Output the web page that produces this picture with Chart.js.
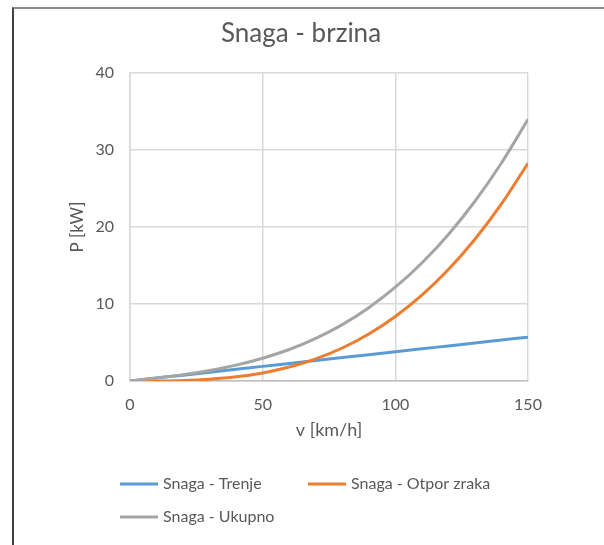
<!DOCTYPE html>
<html>
<head>
<meta charset="utf-8">
<script src="https://cdn.jsdelivr.net/npm/chart.js@4/dist/chart.umd.min.js"></script>
<style>
  html, body { margin: 0; padding: 0; background: #ffffff; }
  #wrap { position: relative; width: 604px; height: 545px; overflow: hidden; }
  #frame { position: absolute; left: 12px; top: 7px; right: 0; bottom: 0;
           border-top: 2px solid #8c8c8c; border-left: 2px solid #404040; }
  canvas { position: absolute; left: 0; top: 0; }
</style>
</head>
<body>
<div id="wrap">
  <div id="frame"></div>
  <canvas id="c" width="604" height="545"></canvas>
</div>
<script>
// Data
const speeds  = [0, 10, 20, 30, 40, 50, 60, 70, 80, 90, 100, 110, 120, 130, 140, 150];
const trenje  = [0, 0.38, 0.76, 1.14, 1.52, 1.90, 2.28, 2.66, 3.04, 3.42, 3.80, 4.18, 4.56, 4.94, 5.32, 5.70];
const otpor   = [0, 0.01, 0.07, 0.23, 0.54, 1.05, 1.81, 2.88, 4.29, 6.11, 8.39, 11.16, 14.49, 18.42, 23.01, 28.30];
const ukupno  = [0, 0.39, 0.83, 1.37, 2.06, 2.95, 4.09, 5.54, 7.33, 9.53, 12.19, 15.34, 19.05, 23.36, 28.33, 34.00];
const seriesNames = ['Snaga - Trenje', 'Snaga - Otpor zraka', 'Snaga - Ukupno'];
const xTicks = [0, 50, 100, 150];
const yTicks = [0, 10, 20, 30, 40];
const chartTitle = 'Snaga - brzina';
const xTitle = 'v [km/h]';
const yTitle = 'P [kW]';

const toPts = arr => speeds.map((v, i) => ({ x: v, y: arr[i] }));
const FONT = 'Lato';
const TXT = '#595959';

const legendPlugin = {
  id: 'excelLegend',
  afterDraw(chart) {
    const ctx = chart.ctx;
    const pos = [[120, 484], [308, 484], [120, 517]];
    ctx.save();
    ctx.font = '16px ' + FONT;
    ctx.textBaseline = 'middle';
    ctx.textAlign = 'left';
    chart.data.datasets.forEach((ds, i) => {
      const [x, y] = pos[i];
      ctx.strokeStyle = ds.borderColor;
      ctx.lineWidth = 3;
      ctx.beginPath();
      ctx.moveTo(x, y);
      ctx.lineTo(x + 38, y);
      ctx.stroke();
      ctx.fillStyle = TXT;
      ctx.fillText(ds.label, x + 43, y);
    });
    ctx.restore();
  }
};

new Chart(document.getElementById('c'), {
  type: 'line',
  data: {
    datasets: [
      { label: seriesNames[0], data: toPts(trenje), borderColor: '#5b9bd5', order: 3 },
      { label: seriesNames[1], data: toPts(otpor),  borderColor: '#ed7d31', order: 2 },
      { label: seriesNames[2], data: toPts(ukupno), borderColor: '#a5a5a5', order: 1 }
    ]
  },
  options: {
    responsive: false,
    devicePixelRatio: 1,
    animation: false,
    layout: { padding: { top: 8, left: 12, right: 14, bottom: 104 } },
    elements: {
      line: { borderWidth: 3, cubicInterpolationMode: 'monotone', fill: false },
      point: { radius: 0, hoverRadius: 0 }
    },
    plugins: {
      legend: { display: false },
      tooltip: { enabled: false },
      title: {
        display: true,
        text: chartTitle,
        color: TXT,
        font: { family: FONT, size: 26, weight: 'normal' },
        padding: { top: 10, bottom: 24 }
      }
    },
    scales: {
      x: {
        type: 'linear',
        min: 0, max: 150,
        afterBuildTicks: s => { s.ticks = xTicks.map(v => ({ value: v })); },
        afterFit: s => { s.height = 60; },
        grid: { color: '#d9d9d9', lineWidth: 1.5, drawTicks: false },
        border: { color: '#bfbfbf', width: 1.5 },
        ticks: { color: TXT, font: { family: FONT, size: 16 }, padding: 14, maxRotation: 0 },
        title: { display: true, text: xTitle, color: TXT, font: { family: FONT, size: 18 }, padding: { top: 0, bottom: 0 } }
      },
      y: {
        min: 0, max: 40,
        afterBuildTicks: s => { s.ticks = yTicks.map(v => ({ value: v })); },
        afterFit: s => { s.width = 118; },
        grid: { color: '#d9d9d9', lineWidth: 1.5, drawTicks: false },
        border: { color: '#d9d9d9', width: 1.5 },
        ticks: { color: TXT, font: { family: FONT, size: 16 }, padding: 16 },
        title: { display: true, text: yTitle, color: TXT, font: { family: FONT, size: 17 }, padding: { top: 55, bottom: 0 } }
      },
      yRightSpace: {
        position: 'right',
        min: 0, max: 40,
        afterFit: s => { s.width = 62; },
        grid: { display: false, drawTicks: false },
        border: { display: false },
        ticks: { display: false },
        title: { display: false }
      }
    }
  },
  plugins: [legendPlugin]
});
</script>
</body>
</html>
